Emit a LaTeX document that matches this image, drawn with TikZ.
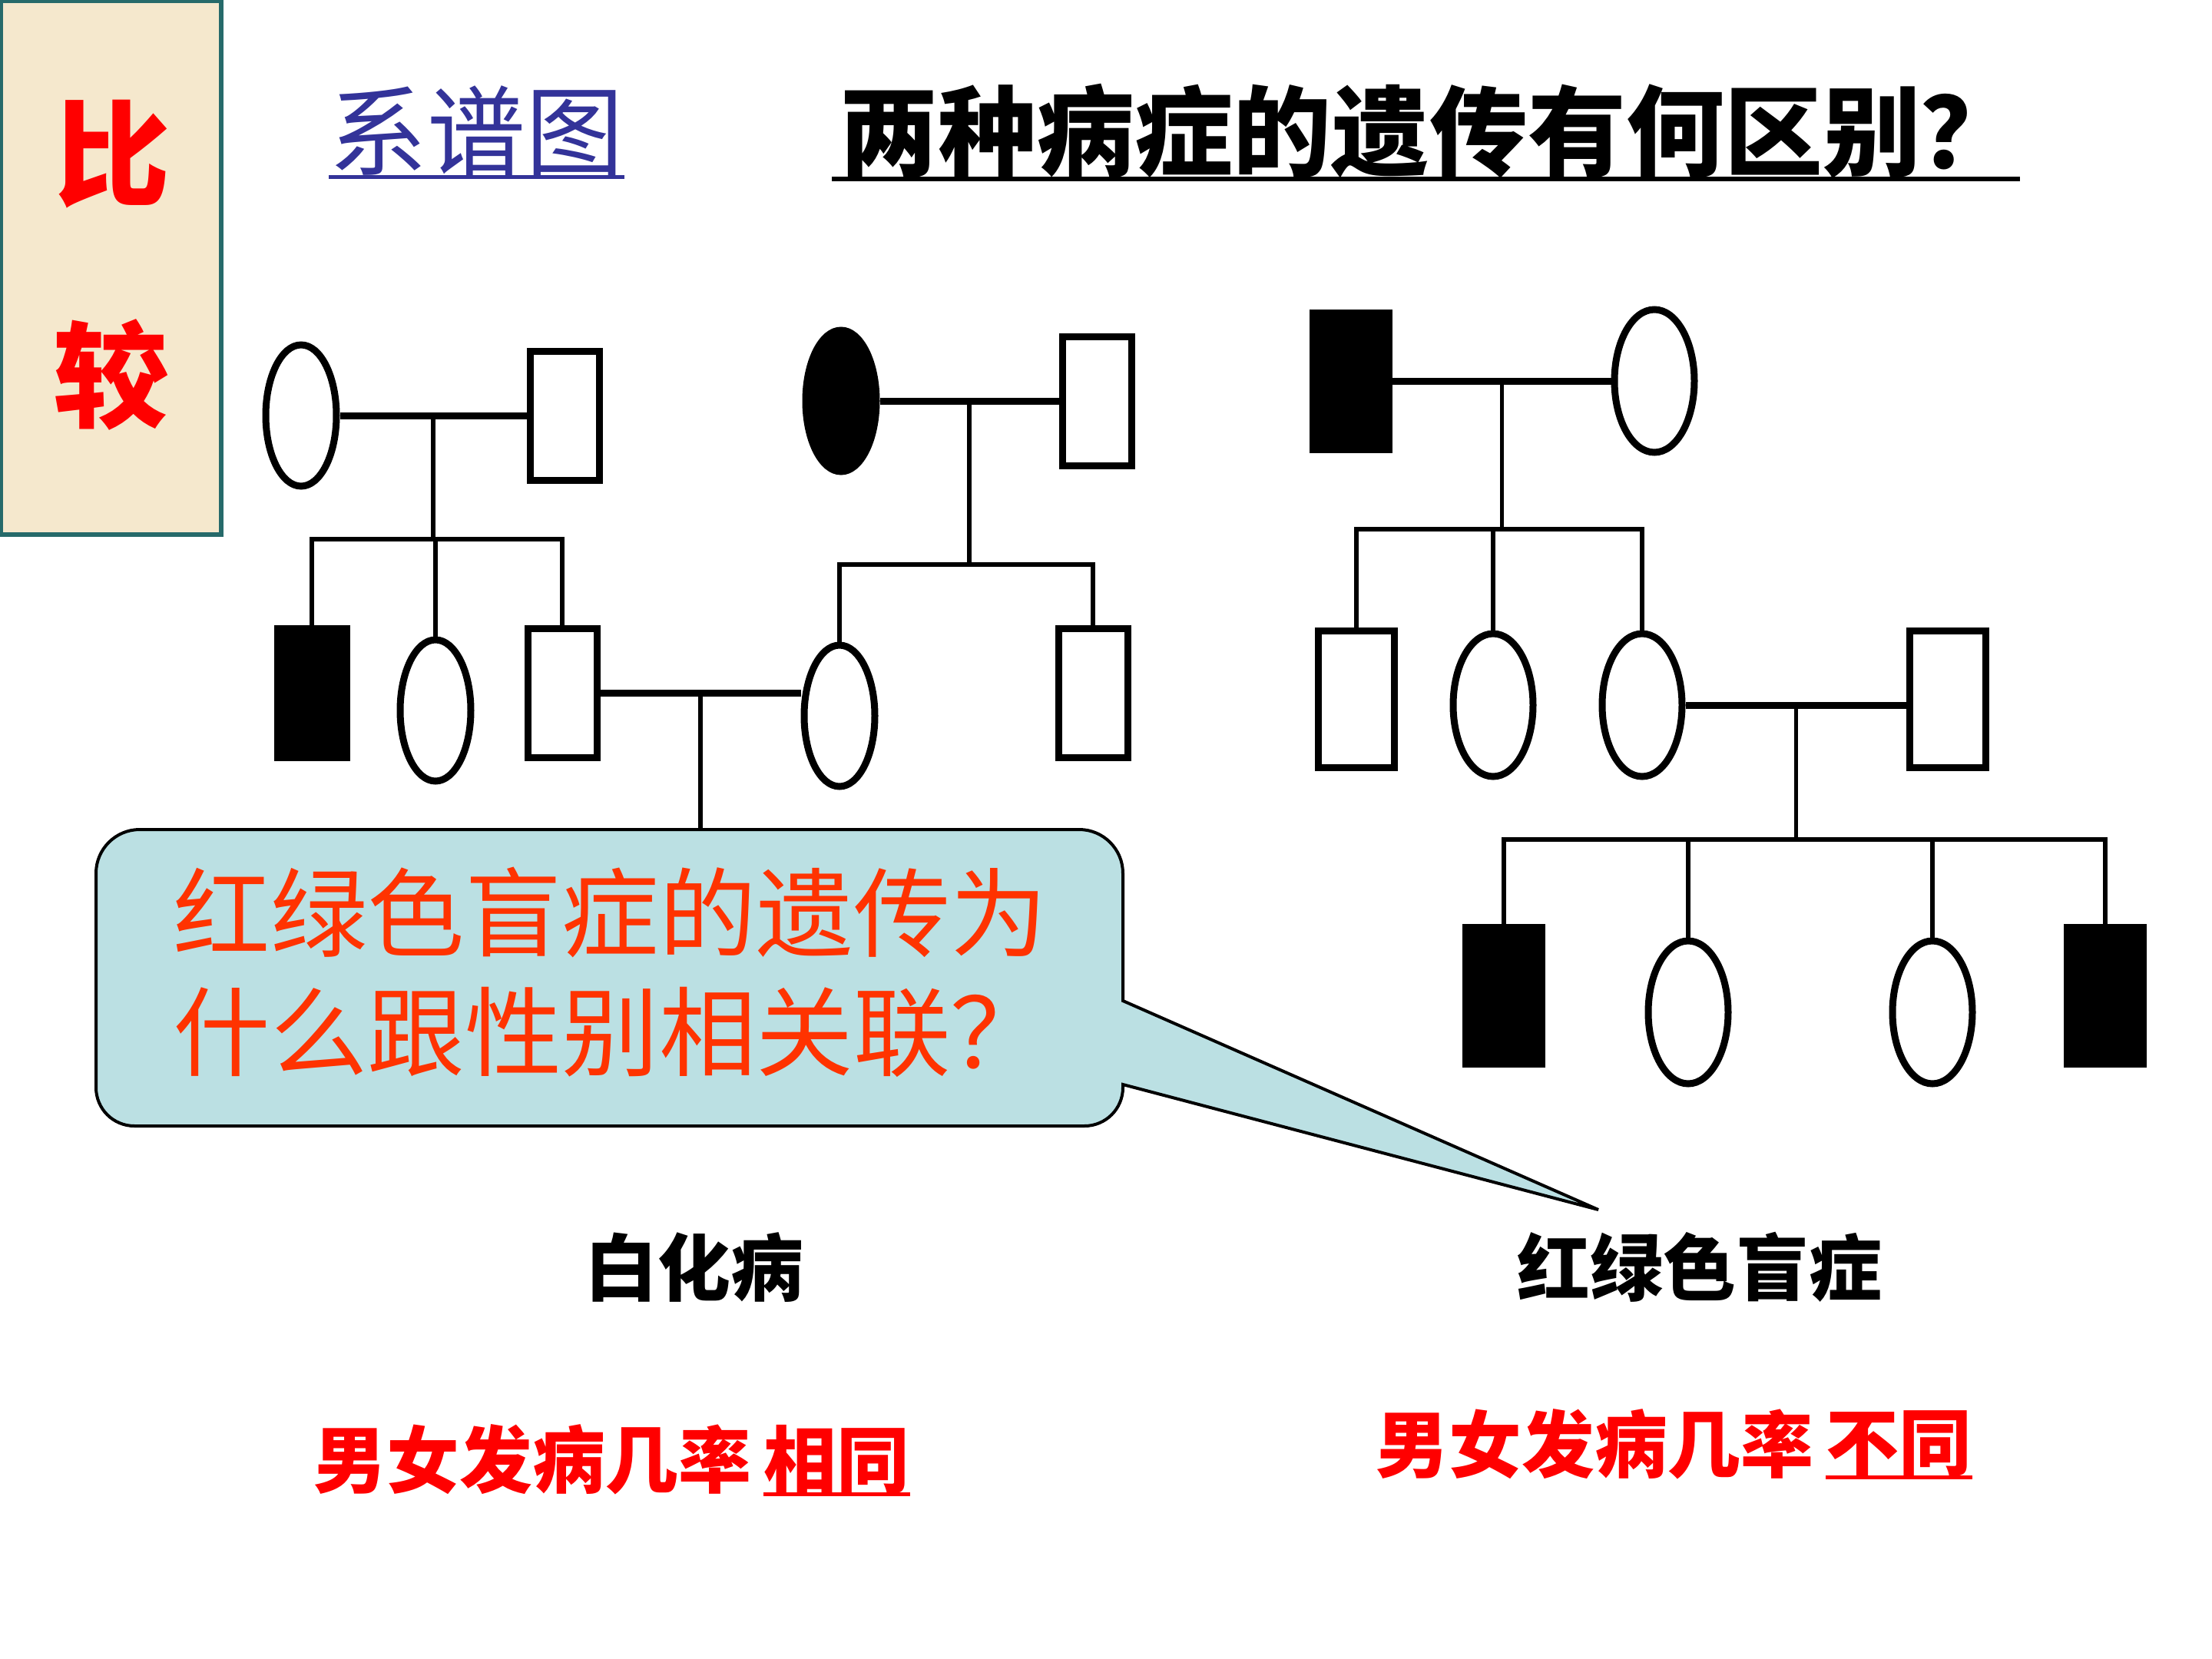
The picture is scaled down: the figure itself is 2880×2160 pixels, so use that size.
\documentclass[tikz,border=0pt]{standalone}
\usepackage{fontspec}
\newfontfamily\cjk{Noto Sans CJK SC}
\usetikzlibrary{shapes.geometric,positioning,calc}
\definecolor{parchment}{RGB}{245,232,205}
\definecolor{tealedge}{RGB}{38,106,106}
\definecolor{titleblue}{RGB}{51,51,153}
\definecolor{bubblefill}{RGB}{187,224,227}
\definecolor{bubbletext}{RGB}{255,51,0}
\tikzset{
  male/.style={draw, rectangle, line width=0.9mm, fill=white, inner sep=0pt,
    minimum width=9.0mm, minimum height=16.8mm},
  female/.style={draw, ellipse, line width=0.9mm, fill=white, inner sep=0pt,
    minimum width=9.2mm, minimum height=18.4mm},
  affected/.style={fill=black},
  mate/.style={line width=0.9mm},
  kin/.style={line width=0.55mm},
  heading/.style={font=\cjk\fontsize{36.4pt}{40pt}\selectfont, inner sep=0pt},
  boldheading/.style={font=\cjk\bfseries\fontsize{36.4pt}{40pt}\selectfont, inner sep=0pt},
  disease/.style={font=\cjk\bfseries\fontsize{27pt}{30pt}\selectfont, inner sep=0pt},
  ratio/.style={disease, text=red},
  bubble/.style={fill=bubblefill, draw=black, line width=0.4mm},
}

\begin{document}
\begin{tikzpicture}[x=0.1mm, y=-0.1mm]
\useasboundingbox (0,0) rectangle (2880,2160);

% side tab
\fill[parchment] (0,0) rectangle (290,698);
\draw[tealedge, line width=0.6mm] (1,1) rectangle (288,696);
\node[text=red, font=\cjk\bfseries\fontsize{42.7pt}{46pt}\selectfont, inner sep=0pt] (bi) at (147,201) {比};
\node[text=red, font=\cjk\bfseries\fontsize{42.7pt}{46pt}\selectfont, inner sep=0pt] (jiao) at (145,488) {较};

% headings
\node[heading, text=titleblue, anchor=west] (pedigree) at (428,171) {系谱图};
\draw[titleblue, line width=0.5mm] (pedigree.south west) -- (pedigree.south east);
\node[boldheading, anchor=west] (question) at (1093,171) {两种病症的遗传有何区别？};
\draw[line width=0.6mm] (question.south west) ++(-10,0) -- (question.south east);

% albinism pedigree
\node[female] (a1) at (392,541) {};
\node[male] (a2) at (735,541) {};
\node[female, affected] (b1) at (1095,522) {};
\node[male] (b2) at (1428,522) {};
\node[male, affected] (a3) at (406,902) {};
\node[female] (a4) at (567,925) {};
\node[male] (a5) at (732,902) {};
\node[female] (b3) at (1093,932) {};
\node[male] (b4) at (1423,902) {};

\draw[mate] (a1) -- (a2);
\coordinate (m1) at ($(a1.east)!0.5!(a2.west)$);
\path (m1) ++(0,161) coordinate (s1);
\draw[kin] (m1) -- (s1);
\draw[kin] (a3.north) |- (s1) -| (a5.north);
\draw[kin] (a4.north) -- (a4.north |- s1);

\draw[mate] (b1) -- (b2);
\coordinate (m2) at ($(b1.east)!0.5!(b2.west)$);
\path (m2) ++(0,213) coordinate (s2);
\draw[kin] (m2) -- (s2);
\draw[kin] (b3.north) |- (s2) -| (b4.north);

\draw[mate] (a5.east) -- (a5.east -| b3.west);
\coordinate (m3) at ($(a5.east)!0.5!(a5.east -| b3.west)$);
\draw[kin] (m3) -- ++(0,200);

% colour blindness pedigree
\begin{scope}[male/.append style={minimum width=9.9mm, minimum height=17.8mm},
  female/.append style={minimum width=10.4mm, minimum height=18.6mm}]
\node[male, affected] (c1) at (1759,496) {};
\node[female] (c2) at (2154,496) {};
\node[male] (c3) at (1766,910) {};
\node[female] (c4) at (1944,918) {};
\node[female] (c5) at (2138,918) {};
\node[male] (c6) at (2536,910) {};
\node[male, affected] (c7) at (1958,1296) {};
\node[female] (c8) at (2198,1318) {};
\node[female] (c9) at (2516,1318) {};
\node[male, affected] (c10) at (2741,1296) {};
\end{scope}

\draw[mate] (c1) -- (c2);
\coordinate (m4) at ($(c1.east)!0.5!(c2.west)$);
\path (m4) ++(0,193) coordinate (s4);
\draw[kin] (m4) -- (s4);
\draw[kin] (c3.north) |- (s4) -| (c5.north);
\draw[kin] (c4.north) -- (c4.north |- s4);

\draw[mate] (c5.east) -- (c5.east -| c6.west);
\coordinate (m5) at ($(c5.east)!0.5!(c5.east -| c6.west)$);
\path (m5) ++(0,175) coordinate (s5);
\draw[kin] (m5) -- (s5);
\draw[kin] (c7.north) |- (s5) -| (c10.north);
\draw[kin] (c8.north) -- (c8.north |- s5);
\draw[kin] (c9.north) -- (c9.north |- s5);

% speech bubble
\draw[bubble] (125,1273) [rounded corners=5.7mm] -- (125,1080) -- (1462,1080)
  [sharp corners] -- (1462,1303) -- (2081,1575) -- (1462,1412)
  [rounded corners=5mm] -- (1462,1466) -- (125,1466) -- cycle;
\node[anchor=west, align=left, text=bubbletext, inner sep=0pt,
  font=\cjk\fontsize{36pt}{44.1pt}\selectfont] (why) at (225,1266)
  {红绿色盲症的遗传为\\什么跟性别相关联？};

% captions
\node[disease] (albino) at (904,1650) {白化病};
\node[disease] (colorblind) at (2213,1650) {红绿色盲症};
\node[ratio, anchor=west] (rate1) at (408,1900) {男女发病几率};
\node[ratio, right=1.5mm of rate1] (same) {相同};
\draw[red, line width=0.5mm] (same.south west) -- (same.south east);
\node[ratio, anchor=west] (rate2) at (1791,1880) {男女发病几率};
\node[ratio, right=1.5mm of rate2] (differ) {不同};
\draw[red, line width=0.5mm] (differ.south west) -- (differ.south east);

\end{tikzpicture}
\end{document}
